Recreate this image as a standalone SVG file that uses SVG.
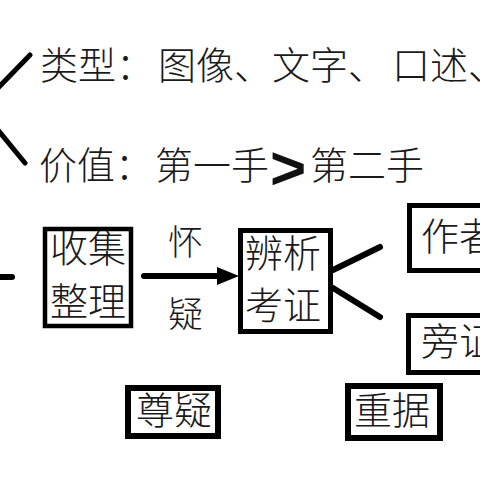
<svg xmlns="http://www.w3.org/2000/svg" width="480" height="480" viewBox="0 0 480 480">
<style>
.t{font-family:"Noto Sans CJK SC","Noto Sans CJK JP",sans-serif;font-size:38px;font-weight:300;fill:#1a1a1a;}
.s{font-size:35px;}
.box{fill:#fff;stroke:#000;}
.ln{stroke:#000;stroke-width:6;stroke-linecap:round;fill:none;}
</style>
<rect width="480" height="480" fill="#fff"/>
<g id="connectors">
  <line class="ln" x1="-2" y1="88" x2="30" y2="55" style="stroke-width:5"/>
  <line class="ln" x1="-2" y1="130" x2="25" y2="163" style="stroke-width:5"/>
  <line class="ln" x1="-5" y1="277" x2="12" y2="277"/>
  <line class="ln" x1="144" y1="276" x2="222" y2="276"/>
  <polygon points="217,267 239,276 217,285" fill="#000"/>
  <line class="ln" x1="333" y1="270" x2="380" y2="247"/>
  <line class="ln" x1="333" y1="288" x2="380" y2="317"/>
</g>
<g id="type-line">
  <text class="t" y="79"><tspan x="40">类型：</tspan><tspan x="158">图像、</tspan><tspan x="272">文字、</tspan><tspan x="392">口述、</tspan></text>
</g>
<g id="value-line">
  <text class="t" y="179"><tspan x="39">价值：</tspan><tspan x="155">第一手</tspan></text>
  <text x="270" y="189" style="font-family:'Liberation Sans',Arial,sans-serif;font-weight:bold;font-size:62px;fill:#111">&gt;</text>
  <text class="t" x="310" y="179">第二手</text>
</g>
<g id="collect">
  <rect class="box" x="45" y="229" width="86" height="97" stroke-width="4.5"/>
  <text class="t" x="50" y="262">收集</text>
  <text class="t" x="50" y="315">整理</text>
</g>
<g id="doubt-label">
  <text class="t s" x="168" y="255">怀</text>
  <text class="t s" x="168" y="327">疑</text>
</g>
<g id="analyze">
  <rect class="box" x="240.5" y="230.5" width="90" height="101" stroke-width="5"/>
  <text class="t" x="245" y="267">辨析</text>
  <text class="t" x="245" y="319">考证</text>
</g>
<g id="author">
  <rect class="box" x="409.5" y="205.5" width="100" height="65" stroke-width="5"/>
  <text class="t" x="421" y="250">作者</text>
</g>
<g id="corroborate">
  <rect class="box" x="408.5" y="315.5" width="100" height="57" stroke-width="5"/>
  <text class="t" x="421" y="355">旁证</text>
</g>
<g id="respect-doubt">
  <rect class="box" x="128" y="388" width="90" height="48" stroke-width="6"/>
  <text class="t" x="136" y="424">尊疑</text>
</g>
<g id="evidence">
  <rect class="box" x="348" y="386" width="92" height="52" stroke-width="6"/>
  <text class="t" x="354" y="424">重据</text>
</g>
</svg>
